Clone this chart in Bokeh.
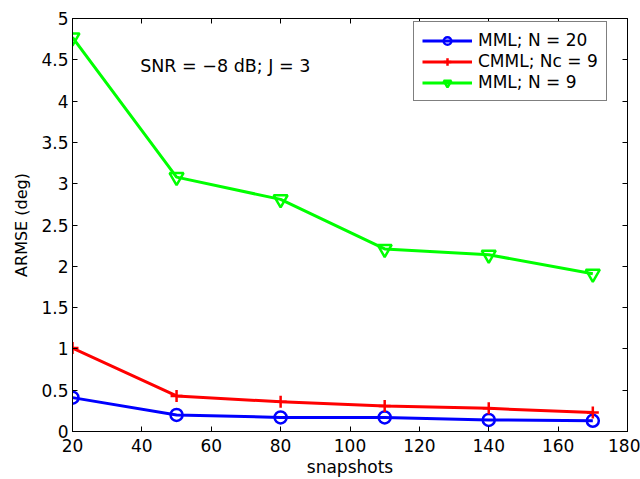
from bokeh.plotting import figure
from bokeh.models import LinearAxis, Range1d, Legend, LegendItem, Label, FixedTicker
from bokeh.embed import file_html
from bokeh.resources import INLINE

snapshots = [20, 50, 80, 110, 140, 170]
mml_n20 = [0.41, 0.20, 0.17, 0.17, 0.14, 0.13]
cmml_nc9 = [1.01, 0.43, 0.36, 0.31, 0.28, 0.23]
mml_n9 = [4.77, 3.08, 2.81, 2.21, 2.14, 1.91]
labels = ["MML; N = 20", "CMML; Nc = 9", "MML; N = 9"]
x_ticks = [20, 40, 60, 80, 100, 120, 140, 160, 180]
y_ticks = [0, 0.5, 1, 1.5, 2, 2.5, 3, 3.5, 4, 4.5, 5]

FONT = "DejaVu Sans"

p = figure(width=640, height=479, output_backend="svg", toolbar_location=None,
           x_range=Range1d(20, 180), y_range=Range1d(0, 5),
           min_border_left=72, min_border_right=13, min_border_top=18, min_border_bottom=46)
p.grid.visible = False
p.outline_line_color = "black"
p.outline_line_width = 1
p.background_fill_color = "white"
p.border_fill_color = "white"

xa = p.xaxis[0]
xa.ticker = FixedTicker(ticks=x_ticks)
ya = p.yaxis[0]
ya.ticker = FixedTicker(ticks=y_ticks)
for ax in (xa, ya):
    ax.major_tick_in = 5
    ax.major_tick_out = 0
    ax.minor_tick_in = 0
    ax.minor_tick_out = 0
    ax.axis_line_color = "black"
    ax.major_tick_line_color = "black"
    ax.major_label_text_font = FONT
    ax.major_label_text_font_size = "17px"
    ax.major_label_text_color = "black"
    ax.axis_label_text_font = FONT
    ax.axis_label_text_color = "black"
    ax.axis_label_text_font_style = "normal"
xa.axis_label = "snapshots"
ya.axis_label = "ARMSE (deg)"
xa.axis_label_text_font_size = "17px"
ya.axis_label_text_font_size = "16px"
xa.major_label_standoff = 7
ya.major_label_standoff = 4
xa.axis_label_standoff = 2
ya.axis_label_standoff = 7

for loc, ticks in (("above", x_ticks), ("right", y_ticks)):
    ax = LinearAxis(ticker=FixedTicker(ticks=ticks))
    ax.major_tick_in = 5
    ax.major_tick_out = 0
    ax.minor_tick_in = 0
    ax.minor_tick_out = 0
    ax.major_label_text_font_size = "0px"
    ax.major_label_text_color = None
    ax.major_label_standoff = 0
    p.add_layout(ax, loc)

colors = ["#0000ff", "#ff0000", "#00ff00"]
series = [mml_n20, cmml_nc9, mml_n9]
markers = ["circle", "cross", "inverted_triangle"]
sizes = [12, 12, 14]
items = []
for ys, c, m, s, lab in zip(series, colors, markers, sizes, labels):
    r1 = p.line(snapshots, ys, line_color=c, line_width=3)
    r2 = p.scatter(snapshots, ys, marker=m, size=s, line_color=c, fill_color=None, line_width=2.5)
    items.append(LegendItem(label=lab, renderers=[r1, r2]))

legend = Legend(items=items, location=(341, 330))
legend.border_line_color = "black"
legend.border_line_width = 1
legend.label_text_font = FONT
legend.label_text_font_size = "17px"
legend.label_text_color = "black"
legend.glyph_width = 50
legend.glyph_height = 19
legend.label_height = 19
legend.spacing = 1
legend.padding = 8
legend.margin = 0
legend.label_standoff = 6
legend.background_fill_alpha = 1
p.add_layout(legend, "center")

p.add_layout(Label(x=39.5, y=4.43, text="SNR = \u22128 dB; J = 3", text_font=FONT,
                   text_font_size="17.5px", text_color="black",
                   text_baseline="middle", text_align="left"))

open("out.html", "w").write(file_html(p, INLINE))
